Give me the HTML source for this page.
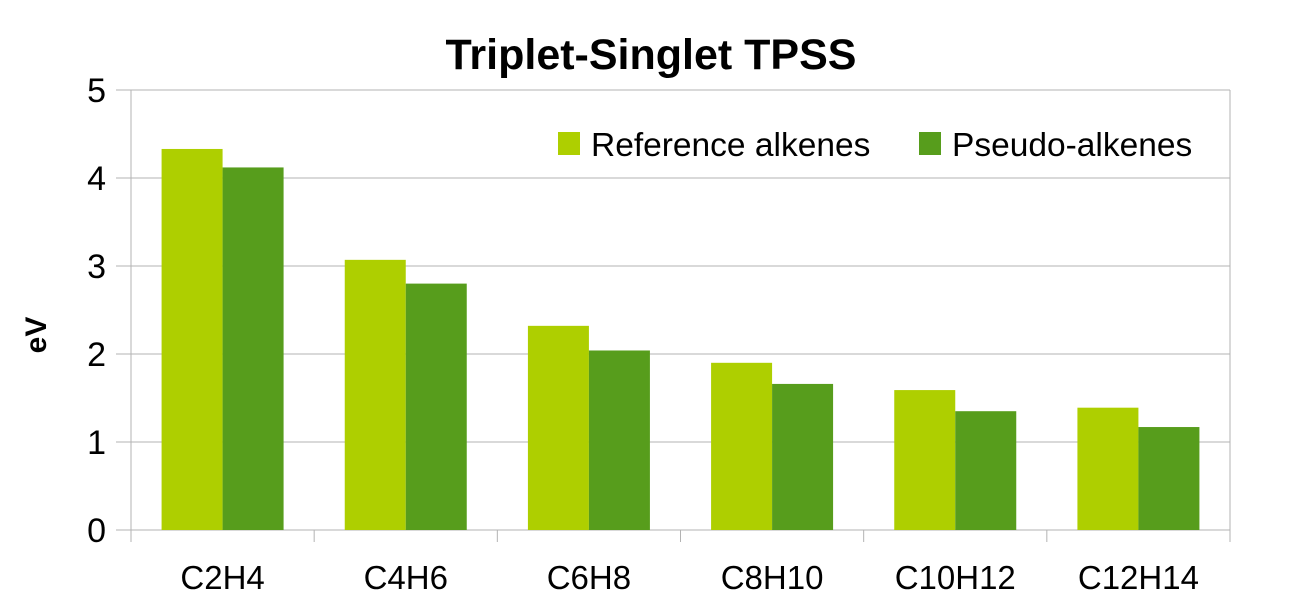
<!DOCTYPE html>
<html><head><meta charset="utf-8"><style>
body{margin:0;background:#fff;}
svg text{font-family:"Liberation Sans",sans-serif;}
</style></head><body>
<svg id="chart" width="1300" height="600" xmlns="http://www.w3.org/2000/svg">
<text x="651" y="69" text-anchor="middle" font-size="43" font-weight="bold">Triplet-Singlet TPSS</text>
<text transform="translate(46,335) rotate(-90)" text-anchor="middle" font-size="30" font-weight="bold">eV</text>
<g id="grid"></g><g id="bars"></g><g id="axes"></g>
<g>
<rect x="558" y="132" width="22" height="23" fill="#aecf00"/>
<text x="591" y="156" font-size="33.5">Reference alkenes</text>
<rect x="919" y="132" width="22" height="23" fill="#579d1c"/>
<text x="952" y="156" font-size="33.5">Pseudo-alkenes</text>
</g>
</svg>
<script>
const categories=["C2H4","C4H6","C6H8","C8H10","C10H12","C12H14"];
const referenceValues=[4.33,3.07,2.32,1.90,1.59,1.39];
const pseudoValues=[4.12,2.80,2.04,1.66,1.35,1.17];
const yTicks=[0,1,2,3,4,5];
const NS="http://www.w3.org/2000/svg";
const L=131,R=1230,T=90,B=530,yMax=5;
const y=v=>B-(v/yMax)*(B-T);
const band=(R-L)/categories.length;
const x=i=>L+i*band;
function mk(tag,attrs,parent,txt){const e=document.createElementNS(NS,tag);for(const k in attrs)e.setAttribute(k,attrs[k]);if(txt!==undefined)e.textContent=txt;document.getElementById(parent).appendChild(e);return e;}
yTicks.forEach(t=>{
 const g=mk('line',{x1:L-15,x2:R,y1:y(t),y2:y(t),stroke:'#b3b3b3','stroke-width':1},'grid');
 
 
 const tl=mk('text',{x:106,y:y(t)+12,'text-anchor':'end','font-size':34},'axes',String(t));
 
 
});
const bw=61;
categories.forEach((c,i)=>{
 const cx=x(i)+band/2;
 const r1=mk('rect',{x:cx-bw,y:y(referenceValues[i]),width:bw,height:B-y(referenceValues[i]),fill:'#aecf00'},'bars');
 
 
 const r2=mk('rect',{x:cx,y:y(pseudoValues[i]),width:bw,height:B-y(pseudoValues[i]),fill:'#579d1c'},'bars');
 
 
 const lb=mk('text',{x:cx,y:589,'text-anchor':'middle','font-size':33},'axes',c);
 
 
});
for(let i=0;i<=categories.length;i++){
 const tk=mk('line',{x1:x(i),x2:x(i),y1:B,y2:B+12,stroke:'#b3b3b3'},'axes');
 
 
}
const ya=mk('line',{x1:L,x2:L,y1:T,y2:B,stroke:'#b3b3b3'},'axes');


const ra=mk('line',{x1:R,x2:R,y1:T,y2:B,stroke:'#b3b3b3'},'axes');


</script>
</body></html>
